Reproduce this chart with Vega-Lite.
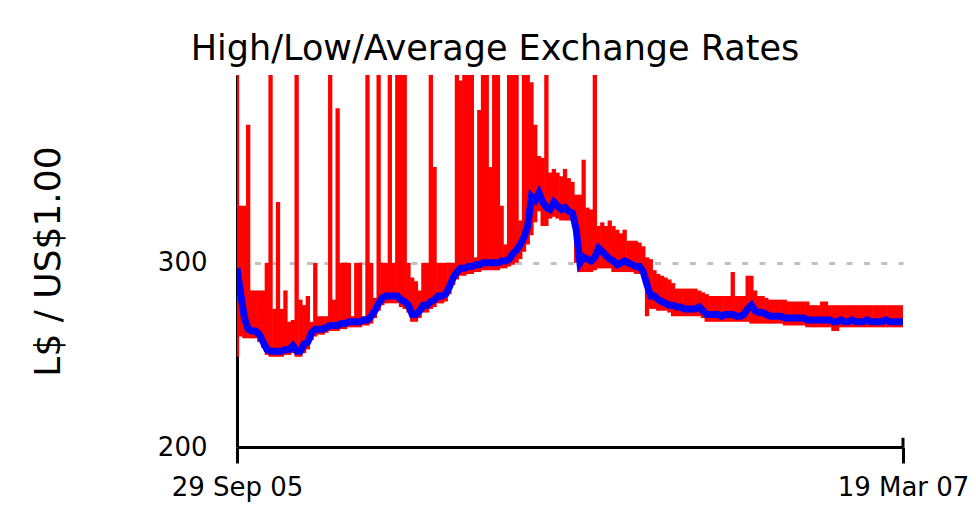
{
  "$schema": "https://vega.github.io/schema/vega-lite/v6.json",
  "width": 666,
  "height": 372,
  "autosize": {"type": "none"},
  "padding": {"left": 237, "top": 75, "right": 73, "bottom": 79},
  "background": "#ffffff",
  "config": {
    "view": {"stroke": null},
    "font": "DejaVu Sans",
    "axis": {"domainColor": "#000000", "domainWidth": 3, "tickColor": "#000000", "tickWidth": 3, "labelColor": "#000000", "labelFont": "DejaVu Sans", "labelFontSize": 26, "titleFont": "DejaVu Sans", "titleColor": "#000000", "titleFontWeight": "normal"}
  },
  "title": {"text": "High/Low/Average Exchange Rates", "font": "DejaVu Sans", "fontSize": 35, "fontWeight": "normal", "color": "#000000", "anchor": "middle", "frame": "group", "dx": -75, "dy": 33, "baseline": "alphabetic", "offset": 13},
  "data": {
    "values": [
      {"date":"2005-09-29","high":402,"low":249,"avg":297},
      {"date":"2005-10-02","high":331,"low":260,"avg":283},
      {"date":"2005-10-05","high":331,"low":259,"avg":270},
      {"date":"2005-10-08","high":375,"low":259,"avg":264},
      {"date":"2005-10-11","high":285,"low":259,"avg":263},
      {"date":"2005-10-14","high":285,"low":259,"avg":263},
      {"date":"2005-10-17","high":285,"low":257,"avg":261},
      {"date":"2005-10-20","high":285,"low":254,"avg":257},
      {"date":"2005-10-23","high":300,"low":250,"avg":253},
      {"date":"2005-10-26","high":402,"low":249,"avg":252},
      {"date":"2005-10-29","high":275,"low":249,"avg":252},
      {"date":"2005-11-01","high":333,"low":249,"avg":252},
      {"date":"2005-11-04","high":275,"low":249,"avg":252},
      {"date":"2005-11-07","high":285,"low":250,"avg":253},
      {"date":"2005-11-10","high":268,"low":250,"avg":253},
      {"date":"2005-11-13","high":269,"low":251,"avg":255},
      {"date":"2005-11-16","high":402,"low":249,"avg":252},
      {"date":"2005-11-19","high":280,"low":249,"avg":252},
      {"date":"2005-11-22","high":277,"low":251,"avg":256},
      {"date":"2005-11-25","high":282,"low":253,"avg":257},
      {"date":"2005-11-28","high":268,"low":258,"avg":262},
      {"date":"2005-12-01","high":300,"low":260,"avg":264},
      {"date":"2005-12-04","high":271,"low":261,"avg":264},
      {"date":"2005-12-07","high":271,"low":261,"avg":264},
      {"date":"2005-12-10","high":271,"low":262,"avg":265},
      {"date":"2005-12-13","high":402,"low":263,"avg":266},
      {"date":"2005-12-16","high":280,"low":263,"avg":266},
      {"date":"2005-12-19","high":384,"low":263,"avg":266},
      {"date":"2005-12-22","high":300,"low":264,"avg":267},
      {"date":"2005-12-25","high":300,"low":264,"avg":267},
      {"date":"2005-12-28","high":300,"low":265,"avg":268},
      {"date":"2005-12-31","high":271,"low":265,"avg":268},
      {"date":"2006-01-03","high":300,"low":265,"avg":268},
      {"date":"2006-01-06","high":300,"low":265,"avg":268},
      {"date":"2006-01-09","high":271,"low":266,"avg":269},
      {"date":"2006-01-12","high":402,"low":266,"avg":269},
      {"date":"2006-01-15","high":300,"low":267,"avg":271},
      {"date":"2006-01-18","high":281,"low":270,"avg":274},
      {"date":"2006-01-21","high":402,"low":274,"avg":278},
      {"date":"2006-01-24","high":300,"low":277,"avg":281},
      {"date":"2006-01-27","high":300,"low":278,"avg":282},
      {"date":"2006-01-30","high":402,"low":278,"avg":282},
      {"date":"2006-02-02","high":300,"low":278,"avg":282},
      {"date":"2006-02-05","high":402,"low":278,"avg":282},
      {"date":"2006-02-08","high":402,"low":276,"avg":280},
      {"date":"2006-02-11","high":402,"low":275,"avg":279},
      {"date":"2006-02-14","high":300,"low":273,"avg":277},
      {"date":"2006-02-17","high":292,"low":268,"avg":272},
      {"date":"2006-02-20","high":290,"low":268,"avg":272},
      {"date":"2006-02-23","high":285,"low":270,"avg":274},
      {"date":"2006-02-26","high":300,"low":273,"avg":277},
      {"date":"2006-03-01","high":300,"low":273,"avg":277},
      {"date":"2006-03-04","high":402,"low":275,"avg":279},
      {"date":"2006-03-07","high":352,"low":276,"avg":280},
      {"date":"2006-03-10","high":300,"low":278,"avg":282},
      {"date":"2006-03-13","high":300,"low":278,"avg":282},
      {"date":"2006-03-16","high":300,"low":279,"avg":283},
      {"date":"2006-03-19","high":300,"low":283,"avg":287},
      {"date":"2006-03-22","high":300,"low":288,"avg":292},
      {"date":"2006-03-25","high":402,"low":291,"avg":295},
      {"date":"2006-03-28","high":399,"low":293,"avg":297},
      {"date":"2006-03-31","high":402,"low":293,"avg":297},
      {"date":"2006-04-03","high":402,"low":294,"avg":298},
      {"date":"2006-04-06","high":402,"low":294,"avg":298},
      {"date":"2006-04-09","high":303,"low":295,"avg":299},
      {"date":"2006-04-12","high":383,"low":295,"avg":299},
      {"date":"2006-04-15","high":402,"low":296,"avg":300},
      {"date":"2006-04-18","high":402,"low":296,"avg":300},
      {"date":"2006-04-21","high":352,"low":296,"avg":300},
      {"date":"2006-04-24","high":402,"low":296,"avg":300},
      {"date":"2006-04-27","high":402,"low":296,"avg":300},
      {"date":"2006-04-30","high":331,"low":297,"avg":301},
      {"date":"2006-05-03","high":310,"low":297,"avg":301},
      {"date":"2006-05-06","high":402,"low":298,"avg":302},
      {"date":"2006-05-09","high":402,"low":299,"avg":305},
      {"date":"2006-05-12","high":402,"low":300,"avg":307},
      {"date":"2006-05-15","high":323,"low":302,"avg":310},
      {"date":"2006-05-18","high":402,"low":306,"avg":314},
      {"date":"2006-05-21","high":402,"low":310,"avg":320},
      {"date":"2006-05-24","high":398,"low":315,"avg":336},
      {"date":"2006-05-27","high":375,"low":322,"avg":334},
      {"date":"2006-05-30","high":358,"low":328,"avg":338},
      {"date":"2006-06-02","high":357,"low":320,"avg":333},
      {"date":"2006-06-05","high":402,"low":320,"avg":330},
      {"date":"2006-06-08","high":349,"low":324,"avg":329},
      {"date":"2006-06-11","high":351,"low":325,"avg":333},
      {"date":"2006-06-14","high":349,"low":324,"avg":331},
      {"date":"2006-06-17","high":347,"low":323,"avg":329},
      {"date":"2006-06-20","high":351,"low":323,"avg":330},
      {"date":"2006-06-23","high":346,"low":323,"avg":328},
      {"date":"2006-06-26","high":344,"low":323,"avg":327},
      {"date":"2006-06-29","high":337,"low":300,"avg":318},
      {"date":"2006-07-02","high":337,"low":295,"avg":300},
      {"date":"2006-07-05","high":356,"low":295,"avg":303},
      {"date":"2006-07-08","high":330,"low":295,"avg":302},
      {"date":"2006-07-11","high":329,"low":295,"avg":301},
      {"date":"2006-07-14","high":402,"low":296,"avg":303},
      {"date":"2006-07-17","high":320,"low":297,"avg":308},
      {"date":"2006-07-20","high":322,"low":297,"avg":306},
      {"date":"2006-07-23","high":320,"low":297,"avg":304},
      {"date":"2006-07-26","high":323,"low":297,"avg":302},
      {"date":"2006-07-29","high":320,"low":295,"avg":301},
      {"date":"2006-08-01","high":318,"low":295,"avg":299},
      {"date":"2006-08-04","high":316,"low":295,"avg":300},
      {"date":"2006-08-07","high":318,"low":295,"avg":301},
      {"date":"2006-08-10","high":312,"low":295,"avg":300},
      {"date":"2006-08-13","high":312,"low":295,"avg":299},
      {"date":"2006-08-16","high":312,"low":294,"avg":298},
      {"date":"2006-08-19","high":311,"low":294,"avg":298},
      {"date":"2006-08-22","high":309,"low":292,"avg":295},
      {"date":"2006-08-25","high":303,"low":271,"avg":288},
      {"date":"2006-08-28","high":302,"low":275,"avg":282},
      {"date":"2006-08-31","high":296,"low":275,"avg":282},
      {"date":"2006-09-03","high":294,"low":274,"avg":280},
      {"date":"2006-09-06","high":293,"low":274,"avg":279},
      {"date":"2006-09-09","high":292,"low":274,"avg":278},
      {"date":"2006-09-12","high":291,"low":273,"avg":277},
      {"date":"2006-09-15","high":289,"low":271,"avg":277},
      {"date":"2006-09-18","high":286,"low":271,"avg":276},
      {"date":"2006-09-21","high":286,"low":271,"avg":276},
      {"date":"2006-09-24","high":286,"low":271,"avg":275},
      {"date":"2006-09-27","high":286,"low":271,"avg":275},
      {"date":"2006-09-30","high":286,"low":271,"avg":275},
      {"date":"2006-10-03","high":286,"low":271,"avg":275},
      {"date":"2006-10-06","high":285,"low":271,"avg":276},
      {"date":"2006-10-09","high":284,"low":270,"avg":274},
      {"date":"2006-10-12","high":283,"low":268,"avg":272},
      {"date":"2006-10-15","high":282,"low":268,"avg":272},
      {"date":"2006-10-18","high":282,"low":268,"avg":272},
      {"date":"2006-10-21","high":282,"low":268,"avg":272},
      {"date":"2006-10-24","high":282,"low":268,"avg":271},
      {"date":"2006-10-27","high":282,"low":268,"avg":272},
      {"date":"2006-10-30","high":282,"low":268,"avg":272},
      {"date":"2006-11-02","high":295,"low":268,"avg":272},
      {"date":"2006-11-05","high":282,"low":268,"avg":271},
      {"date":"2006-11-08","high":282,"low":268,"avg":271},
      {"date":"2006-11-11","high":282,"low":268,"avg":272},
      {"date":"2006-11-14","high":293,"low":268,"avg":275},
      {"date":"2006-11-17","high":293,"low":267,"avg":277},
      {"date":"2006-11-20","high":285,"low":267,"avg":274},
      {"date":"2006-11-23","high":282,"low":267,"avg":273},
      {"date":"2006-11-26","high":282,"low":267,"avg":273},
      {"date":"2006-11-29","high":281,"low":267,"avg":272},
      {"date":"2006-12-02","high":280,"low":267,"avg":271},
      {"date":"2006-12-05","high":280,"low":267,"avg":271},
      {"date":"2006-12-08","high":280,"low":267,"avg":271},
      {"date":"2006-12-11","high":280,"low":267,"avg":271},
      {"date":"2006-12-14","high":280,"low":266,"avg":270},
      {"date":"2006-12-17","high":279,"low":266,"avg":270},
      {"date":"2006-12-20","high":279,"low":266,"avg":270},
      {"date":"2006-12-23","high":279,"low":266,"avg":270},
      {"date":"2006-12-26","high":279,"low":266,"avg":270},
      {"date":"2006-12-29","high":279,"low":266,"avg":270},
      {"date":"2007-01-01","high":279,"low":265,"avg":269},
      {"date":"2007-01-04","high":277,"low":265,"avg":269},
      {"date":"2007-01-07","high":277,"low":265,"avg":269},
      {"date":"2007-01-10","high":277,"low":265,"avg":269},
      {"date":"2007-01-13","high":279,"low":265,"avg":269},
      {"date":"2007-01-16","high":279,"low":265,"avg":269},
      {"date":"2007-01-19","high":277,"low":265,"avg":269},
      {"date":"2007-01-22","high":277,"low":263,"avg":268},
      {"date":"2007-01-25","high":277,"low":263,"avg":268},
      {"date":"2007-01-28","high":277,"low":265,"avg":269},
      {"date":"2007-01-31","high":277,"low":265,"avg":268},
      {"date":"2007-02-03","high":277,"low":265,"avg":268},
      {"date":"2007-02-06","high":277,"low":265,"avg":269},
      {"date":"2007-02-09","high":277,"low":265,"avg":268},
      {"date":"2007-02-12","high":277,"low":265,"avg":268},
      {"date":"2007-02-15","high":277,"low":265,"avg":268},
      {"date":"2007-02-18","high":277,"low":265,"avg":269},
      {"date":"2007-02-21","high":277,"low":265,"avg":268},
      {"date":"2007-02-24","high":277,"low":265,"avg":268},
      {"date":"2007-02-27","high":277,"low":265,"avg":268},
      {"date":"2007-03-02","high":277,"low":265,"avg":268},
      {"date":"2007-03-05","high":277,"low":265,"avg":269},
      {"date":"2007-03-08","high":277,"low":265,"avg":268},
      {"date":"2007-03-11","high":277,"low":265,"avg":268},
      {"date":"2007-03-14","high":277,"low":265,"avg":268},
      {"date":"2007-03-17","high":277,"low":265,"avg":268},
      {"date":"2007-03-20","high":277,"low":265,"avg":268}
    ]
  },
  "layer": [
    {
      "mark": {"type": "rule", "color": "#ff0000", "strokeWidth": 4.3, "strokeCap": "butt", "clip": true},
      "encoding": {
        "x": {
          "field": "date", "type": "temporal",
          "scale": {"type": "utc", "domain": [{"year": 2005, "month": 9, "date": 29, "utc": true}, {"year": 2007, "month": 3, "date": 19, "utc": true}]},
          "axis": {"title": null, "values": [{"year": 2005, "month": 9, "date": 29, "utc": true}, {"year": 2007, "month": 3, "date": 19, "utc": true}], "labelExpr": "utcFormat(datum.value, '%d %b %y')", "tickSize": 16, "labelPadding": 11, "grid": false, "labelAlign": "center", "labelFlush": false}
        },
        "y": {
          "field": "low", "type": "quantitative",
          "scale": {"domain": [200, 402], "nice": false, "zero": false},
          "axis": {"title": "L$ / US$1.00", "titleFontSize": 36, "titlePadding": 90, "values": [200, 300], "ticks": false, "tickSize": 0, "labelPadding": 30, "grid": true, "gridColor": "#c0c0c0", "gridWidth": 3, "gridDash": [6, 11.4]}
        },
        "y2": {"field": "high"}
      }
    },
    {
      "mark": {"type": "line", "color": "#0000ff", "strokeWidth": 7, "clip": true},
      "encoding": {
        "x": {"field": "date", "type": "temporal"},
        "y": {"field": "avg", "type": "quantitative"}
      }
    },
    {
      "data": {"values": [{}]},
      "mark": {"type": "rule", "color": "#000000", "strokeWidth": 3},
      "encoding": {
        "x": {"datum": {"year": 2007, "month": 3, "date": 19, "utc": true}, "type": "temporal"},
        "y": {"datum": 200},
        "y2": {"datum": 205}
      }
    }
  ]
}
